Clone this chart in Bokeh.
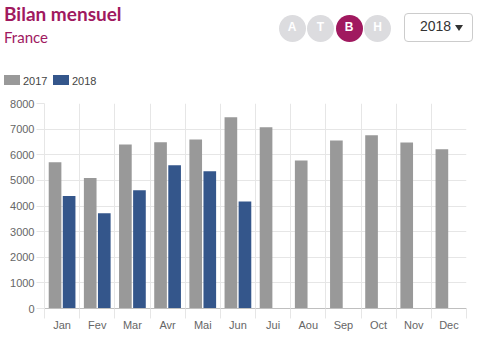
from bokeh.plotting import figure
from bokeh.models import Range1d, FixedTicker, ColumnDataSource, Div
from bokeh.transform import dodge
from bokeh.layouts import column
from bokeh.embed import file_html
from bokeh.resources import INLINE

months = ["Jan", "Fev", "Mar", "Avr", "Mai", "Jun", "Jui", "Aou", "Sep", "Oct", "Nov", "Dec"]
v2017 = [5710, 5090, 6400, 6490, 6600, 7460, 7070, 5780, 6560, 6760, 6480, 6210]
v2018 = [4390, 3720, 4610, 5590, 5360, 4180]
y_ticks = [0, 1000, 2000, 3000, 4000, 5000, 6000, 7000, 8000]
series_names = ["2017", "2018"]
title_text = "Bilan mensuel"
subtitle_text = "France"
buttons = ["A", "T", "B", "H"]
active_button = "B"
year_selected = "2018"

GREY = "#999999"
BLUE = "#34568b"
PURPLE = "#a0195f"
GRID = "#e6e6e6"
FONT = "Liberation Sans"

W = 483
HEAD_H = 95
CHART_H = 339 - HEAD_H

# ---------- header (title, buttons, dropdown, legend) ----------
parts = []
parts.append(
    f'<div style="position:absolute;left:4px;top:4px;font-family:Lato;font-size:19px;'
    f'font-weight:bold;line-height:19px;color:{PURPLE};white-space:nowrap">{title_text}</div>')
parts.append(
    f'<div style="position:absolute;left:4px;top:30px;font-family:Lato;font-size:15px;'
    f'line-height:15px;color:{PURPLE};white-space:nowrap">{subtitle_text}</div>')
for i, b in enumerate(buttons):
    cx = 292 + 28.5 * i
    bg = PURPLE if b == active_button else "#dcdcdf"
    parts.append(
        f'<div style="position:absolute;left:{cx - 13.5}px;top:14.5px;width:27px;height:27px;'
        f'border-radius:50%;background:{bg};color:white;font-family:\'{FONT}\';font-weight:bold;'
        f'font-size:12px;display:flex;align-items:center;justify-content:center">{b}</div>')
parts.append(
    '<div style="position:absolute;left:404px;top:13px;width:69px;height:29px;box-sizing:border-box;'
    'border:1px solid #cccccc;border-radius:4px;background:white"></div>')
parts.append(
    f'<div style="position:absolute;left:420px;top:19px;font-family:\'{FONT}\';font-size:14px;'
    f'line-height:14px;color:#333333">{year_selected}</div>')
parts.append(
    '<div style="position:absolute;left:455px;top:25px;width:0;height:0;border-left:4px solid transparent;'
    'border-right:4px solid transparent;border-top:6px solid #333333"></div>')
# legend
leg_cols = [GREY, BLUE]
leg_x = [4, 53]
for name, col, lx in zip(series_names, leg_cols, leg_x):
    parts.append(
        f'<div style="position:absolute;left:{lx}px;top:75px;width:16px;height:10px;background:{col}"></div>')
    parts.append(
        f'<div style="position:absolute;left:{lx + 19}px;top:75.5px;font-family:\'{FONT}\';font-size:11px;'
        f'line-height:11px;color:#444444">{name}</div>')

html = (f'<div style="position:relative;width:{W}px;height:{HEAD_H}px;overflow:hidden">'
        + "".join(parts) + '</div>')
header = Div(text=html, width=W, height=HEAD_H, margin=(0, 0, 0, 0))

# ---------- chart ----------
p = figure(width=W, height=CHART_H, output_backend="svg", toolbar_location=None,
           x_range=Range1d(0, len(months)), y_range=Range1d(0, 8000),
           min_border_left=44, min_border_right=17, min_border_top=8, min_border_bottom=31,
           outline_line_color=None)

src17 = ColumnDataSource(dict(x=[i + 0.5 for i in range(len(months))], y=v2017))
src18 = ColumnDataSource(dict(x=[i + 0.5 for i in range(len(v2018))], y=v2018))
p.vbar(x=dodge("x", -0.2, range=p.x_range), top="y", width=0.36, source=src17,
       fill_color=GREY, line_color=None)
p.vbar(x=dodge("x", 0.2, range=p.x_range), top="y", width=0.36, source=src18,
       fill_color=BLUE, line_color=None)

centers = [i + 0.5 for i in range(len(months))]
bounds = list(range(len(months) + 1))
xa = p.xaxis[0]
xa.ticker = FixedTicker(ticks=centers, minor_ticks=bounds)
xa.major_label_overrides = {c: m for c, m in zip(centers, months)}
xa.major_tick_out = 0
xa.major_tick_in = 0
xa.minor_tick_out = 10
xa.minor_tick_in = 0
xa.minor_tick_line_color = GRID
xa.axis_line_color = "#bfbfbf"
xa.major_label_standoff = 0
xa.major_label_text_font = FONT
xa.major_label_text_font_size = "11px"
xa.major_label_text_color = "#666666"

ya = p.yaxis[0]
ya.ticker = FixedTicker(ticks=y_ticks, minor_ticks=[])
ya.major_tick_out = 8
ya.major_tick_in = 0
ya.major_tick_line_color = GRID
ya.axis_line_color = GRID
ya.major_label_standoff = 2
ya.major_label_text_font = FONT
ya.major_label_text_font_size = "11px"
ya.major_label_text_color = "#666666"

p.xgrid.ticker = FixedTicker(ticks=bounds)
p.xgrid.grid_line_color = GRID
p.ygrid.grid_line_color = GRID

layout = column(header, p, spacing=0)
open("out.html", "w").write(file_html(layout, INLINE))
